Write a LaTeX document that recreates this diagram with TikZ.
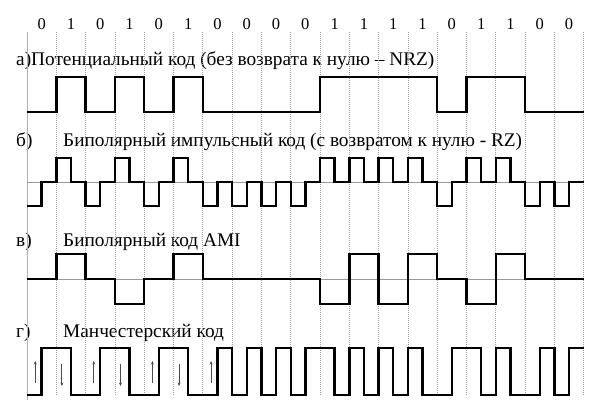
\documentclass[tikz,border=0pt]{standalone}
\usepackage{fontspec}
\setmainfont{Liberation Serif}
\usetikzlibrary{arrows.meta}
\tikzset{
  sig/.style={line width=2.4pt, line join=miter, black},
  gridline/.style={gray!75, line width=0.7pt, dash pattern=on 1pt off 1pt},
  firstline/.style={gray!60, line width=0.7pt},
  zeroline/.style={gray!80, line width=0.7pt},
  marker/.style={black!70, line width=0.8pt, -{Stealth[length=3.5pt,width=3pt]}},
  lbl/.style={anchor=base west, inner sep=0pt, font=\fontsize{19.3}{21}\selectfont},
  digit/.style={anchor=base, inner sep=0pt, font=\fontsize{16.5}{18}\selectfont}
}
\begin{document}
\begin{tikzpicture}[x=1pt,y=-1pt]
\useasboundingbox[fill=white] (0,0) rectangle (607,406);
% labels
\node[lbl] (la) at (16,66) {а)Потенциальный код (без возврата к нулю – NRZ)};
\node[lbl] (lb1) at (16,147) {б)};
\node[lbl] (lb2) at (63,147) {Биполярный импульсный код (с возвратом к нулю - RZ)};
\node[lbl] (lc1) at (16,246) {в)};
\node[lbl] (lc2) at (63,246) {Биполярный код AMI};
\node[lbl] (ld1) at (16,337) {г)};
\node[lbl] (ld2) at (63,337) {Манчестерский код};
\begin{scope}[xshift=27pt, x=29.3pt]
  % grid
  \draw[firstline] (0,32) -- (0,400);
  \foreach \i in {1,...,19} \draw[gridline] (\i,32) -- (\i,396);
  % bits
  \foreach \b [count=\i from 0] in {0,1,0,1,0,1,0,0,0,0,1,1,1,1,0,1,1,0,0}
    \node[digit] (d\i) at (\i+0.5,30) {\b};
  % zero reference lines
  \draw[zeroline] (0,182) -- (19,182);
  \draw[zeroline] (0,279) -- (19,279);
  % a) NRZ
  \draw[sig] (0,112)
    \foreach \b [count=\i from 0] in {0,1,0,1,0,1,0,0,0,0,1,1,1,1,0,1,1,0,0}
      { -- (\i,{112-35*\b}) -- (\i+1,{112-35*\b}) };
  % b) RZ
  \draw[sig] (0,206)
    \foreach \b [count=\i from 0] in {0,1,0,1,0,1,0,0,0,0,1,1,1,1,0,1,1,0,0}
      { -- (\i,{182-24*(2*\b-1)}) -- (\i+0.5,{182-24*(2*\b-1)}) -- (\i+0.5,182) -- (\i+1,182) };
  % c) AMI
  \draw[sig] (0,279)
    \foreach \l [count=\i from 0] in {0,1,0,-1,0,1,0,0,0,0,-1,1,-1,1,0,-1,1,0,0}
      { -- (\i,{279-25*\l}) -- (\i+1,{279-25*\l}) };
  % d) Manchester
  \draw[sig] (0,395)
    \foreach \b [count=\i from 0] in {0,1,0,1,0,1,0,0,0,0,1,1,1,1,0,1,1,0,0}
      { -- (\i,{395-47*\b}) -- (\i+0.5,{395-47*\b}) -- (\i+0.5,{348+47*\b}) -- (\i+1,{348+47*\b}) };
  % transition arrows
  \foreach \i in {0,2,4,6} \draw[marker] (\i+0.28,383) -- (\i+0.28,361);
  \foreach \i in {1,3,5} \draw[marker] (\i+0.19,364) -- (\i+0.19,386);
\end{scope}
\end{tikzpicture}
\end{document}
